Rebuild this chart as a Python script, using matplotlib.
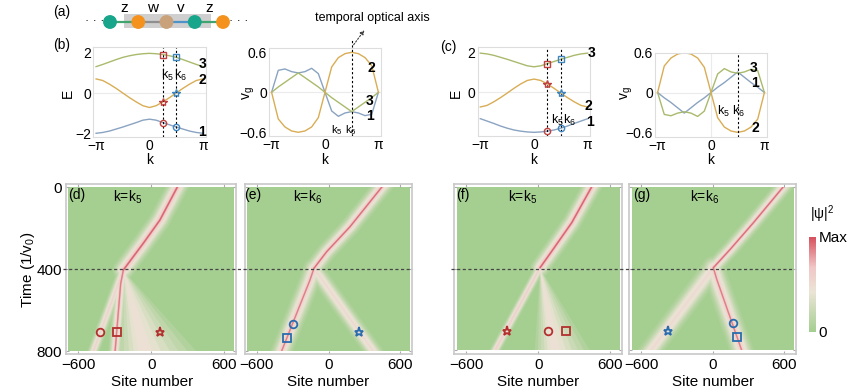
import numpy as np
import matplotlib
matplotlib.use('Agg')
import matplotlib.pyplot as plt
from matplotlib.colors import LinearSegmentedColormap, Normalize
from matplotlib.patches import Rectangle, Polygon, FancyArrowPatch
from matplotlib.cm import ScalarMappable
from matplotlib.lines import Line2D

plt.rcParams.update({
    'font.family': ['Liberation Sans', 'DejaVu Sans'],
    'mathtext.fontset': 'custom',
    'mathtext.rm': 'Liberation Sans',
    'mathtext.it': 'Liberation Sans:italic',
    'mathtext.default': 'regular',
})

# ---------------- data ----------------
# chain in (a)
node_colors = ['#17a58b', '#f5921e', '#c9a27c', '#17a58b', '#f5921e']
bond_colors = ['#3fa46f', '#8f8f8f', '#4d93c9', '#3fa46f']
bond_names = ['z', 'w', 'v', 'z']

# k grid (units of pi)
k_frac = [-1, -0.875, -0.75, -0.625, -0.5, -0.375, -0.25, -0.125, 0,
          0.125, 0.25, 0.375, 0.5, 0.625, 0.75, 0.875, 1]
i_k5, i_k6 = 10, 12

# (b) band energies
E1_b = [-2.00, -1.96, -1.89, -1.79, -1.69, -1.58, -1.47, -1.35, -1.30,
        -1.35, -1.47, -1.58, -1.69, -1.79, -1.89, -1.96, -2.00]
E2_b = [0.70, 0.62, 0.44, 0.23, 0.00, -0.23, -0.44, -0.63, -0.72,
        -0.63, -0.44, -0.23, 0.00, 0.23, 0.44, 0.62, 0.70]
E3_b = [1.31, 1.42, 1.54, 1.66, 1.77, 1.85, 1.91, 1.95, 1.97,
        1.95, 1.91, 1.85, 1.77, 1.66, 1.54, 1.42, 1.31]
# (b) group velocities
v1_b = [0.00, 0.33, 0.35, 0.31, 0.29, 0.31, 0.36, 0.28, 0.00,
        -0.28, -0.36, -0.31, -0.29, -0.31, -0.35, -0.33, 0.00]
v2_b = [0.00, -0.40, -0.52, -0.58, -0.60, -0.58, -0.52, -0.38, 0.00,
        0.38, 0.52, 0.58, 0.60, 0.58, 0.52, 0.40, 0.00]
v3_b = [0.00, 0.08, 0.15, 0.22, 0.29, 0.22, 0.15, 0.08, 0.00,
        -0.08, -0.15, -0.22, -0.29, -0.22, -0.15, -0.08, 0.00]
# (c) band energies
E1_c = [-1.33, -1.45, -1.57, -1.70, -1.81, -1.90, -1.96, -2.00, -2.02,
        -2.00, -1.96, -1.90, -1.81, -1.70, -1.57, -1.45, -1.33]
E2_c = [-0.74, -0.66, -0.48, -0.27, -0.04, 0.20, 0.42, 0.60, 0.67,
        0.60, 0.42, 0.20, -0.04, -0.27, -0.48, -0.66, -0.74]
E3_c = [1.98, 1.94, 1.87, 1.77, 1.67, 1.56, 1.45, 1.34, 1.29,
        1.34, 1.45, 1.56, 1.67, 1.77, 1.87, 1.94, 1.98]
# (c) group velocities
v1_c = [0.00, -0.08, -0.15, -0.23, -0.31, -0.23, -0.15, -0.08, 0.00,
        0.08, 0.15, 0.23, 0.31, 0.23, 0.15, 0.08, 0.00]
v2_c = [0.00, 0.40, 0.52, 0.58, 0.60, 0.58, 0.52, 0.38, 0.00,
        -0.38, -0.52, -0.58, -0.60, -0.58, -0.52, -0.40, 0.00]
v3_c = [0.00, -0.33, -0.35, -0.31, -0.29, -0.31, -0.36, -0.28, 0.00,
        0.28, 0.36, 0.31, 0.29, 0.31, 0.35, 0.33, 0.00]

# beam paths (site, time) in the |psi|^2 maps: (sites, times, peak, sigma_px)
d_beams = [([214, 72, -65, -188, -228], [0, 160, 274, 372, 404], 0.64, 5.0),
           ([214, 72, -65, -188, -228], [0, 160, 274, 372, 404], 0.95, 1.6),
           ([-228, -250, -296], [404, 470, 800], 0.60, 3.2),
           ([-228, -250, -296], [404, 470, 800], 0.88, 1.4),
           ([-228, -474], [404, 800], 0.55, 2.8)]
d_fans = [(-228, 404, -300, 370, 0.45)]
e_beams = [([443, 178, -17, -123], [0, 193, 315, 396], 0.60, 4.5),
           ([443, 178, -17, -123], [0, 193, 315, 396], 0.92, 1.3),
           ([-123, -156, -393], [396, 453, 800], 0.58, 5.0),
           ([-123, -156, -393], [396, 453, 800], 0.88, 1.3),
           ([-123, 372], [396, 800], 0.52, 4.2)]
e_fans = []
f_beams = [([445, 278, 112, 14], [0, 176, 315, 396], 0.64, 4.5),
           ([445, 278, 112, 14], [0, 176, 315, 396], 0.95, 1.5),
           ([14, -360], [396, 800], 0.58, 2.5)]
f_fans = [(14, 396, -30, 430, 0.45)]
g_beams = [([591, 340, 144, 4], [0, 176, 307, 396], 0.58, 4.0),
           ([591, 340, 144, 4], [0, 176, 307, 396], 0.92, 1.3),
           ([4, 33, 242], [396, 453, 800], 0.58, 5.5),
           ([4, 33, 242], [396, 453, 800], 0.88, 1.3),
           ([4, -520], [396, 800], 0.52, 5.2)]
g_fans = []

# markers (site, time, shape)
d_marks = [(-419, 706, 'o'), (-283, 706, 's'), (72, 706, '*')]
e_marks = [(-301, 668, 'o'), (-346, 738, 's'), (256, 706, '*')]
f_marks = [(-263, 703, '*'), (78, 703, 'o'), (228, 703, 's')]
g_marks = [(-373, 706, '*'), (167, 665, 'o'), (205, 735, 's')]

# ---------------- styling ----------------
c1, c2, c3 = '#8aa3c1', '#d9ad55', '#a9ba6c'
red, blue = '#c0413f', '#3f86bf'
mred, mblue = '#b3302e', '#2a6cad'
cmap = LinearSegmentedColormap.from_list(
    'psi', [(0, '#a5ce91'), (0.42, '#ebe4d6'), (0.68, '#f0c6c6'), (1, '#d64f5c')])

W, H = 865, 392
fig = plt.figure(figsize=(8.65, 3.92), dpi=100)


def px_axes(l, t, r, b):
    return fig.add_axes([l / W, 1 - b / H, (r - l) / W, (b - t) / H])


def ftext(x, y, s, **kw):
    kw.setdefault('ha', 'center')
    kw.setdefault('va', 'center')
    fig.text(x / W, 1 - y / H, s, **kw)


k = np.pi * np.array(k_frac)

# ---------------- (a) chain ----------------
axa = px_axes(85, 0, 250, 36)
axa.set_xlim(-0.885, 4.956)
axa.set_ylim(-1.4, 2.2)
axa.axis('off')
axa.add_patch(Rectangle((0.5, -0.6), 3.07, 1.4, facecolor='#cfcfcf', edgecolor='none', zorder=0))
for i, bc in enumerate(bond_colors):
    axa.plot([i, i + 1], [0, 0], color=bc, lw=1.6, zorder=1)
    axa.text(i + 0.5, 1.4, bond_names[i], ha='center', va='center', fontsize=11)
axa.scatter(range(len(node_colors)), [0] * len(node_colors), s=80, c=node_colors, zorder=2)
axa.text(-0.55, 0.05, '· · ·', ha='center', va='center', fontsize=9)
axa.text(4.55, 0.05, '· · ·', ha='center', va='center', fontsize=9)


# ---------------- band panels ----------------
def band_panel(box, curves, ylim, yticks, yticklabels, vlines, grid_v=False):
    ax = px_axes(*box)
    ax.axhline(0, color='#ebebeb', lw=0.8, zorder=0)
    if grid_v:
        ax.axvline(0, color='#ebebeb', lw=0.8, zorder=0)
    for vals, col in curves:
        ax.plot(k, vals, color=col, lw=1.0)
    ax.set_xlim(-3.3, 3.3)
    ax.set_ylim(ylim)
    ax.set_xticks([-np.pi, 0, np.pi])
    ax.set_xticklabels(['\u2212\u03c0', '0', '\u03c0'])
    ax.set_yticks(yticks)
    ax.set_yticklabels(yticklabels)
    for sp in ax.spines.values():
        sp.set_color('#dddddd')
        sp.set_linewidth(0.8)
    ax.tick_params(length=0, labelsize=10, pad=1.5)
    for v in vlines:
        ax.axvline(v, color='k', ls=(0, (2, 2)), lw=0.8)
    return ax


def band_marks(ax, bands, idx, col):
    for vals, mk in zip(bands, ['o', '*', 's']):
        ax.plot(k[idx], vals[idx], marker=mk, ms=4.5 if mk != '*' else 6,
                mfc='none', mec=col, mew=1.0, zorder=5)


axbE = band_panel((93.4, 46.7, 205.6, 137.3), [(E1_b, c1), (E2_b, c2), (E3_b, c3)],
                  (-2.2, 2.3), [-2, 0, 2], ['\u22122', '0', '2'], [k[i_k5], k[i_k6]])
band_marks(axbE, [E1_b, E2_b, E3_b], i_k5, red)
band_marks(axbE, [E1_b, E2_b, E3_b], i_k6, blue)

axbV = band_panel((268.9, 48.3, 381.1, 136.3), [(v1_b, c1), (v3_b, c3), (v2_b, c2)],
                  (-0.66, 0.66), [-0.6, 0, 0.6], ['\u22120.6', '0', '0.6'], [])
axbV.axvline(k[i_k6], ymax=1.09, color='k', ls=(0, (2, 2)), lw=0.8, clip_on=False)

axcE = band_panel((477.6, 46.8, 590.4, 135.9), [(E1_c, c1), (E2_c, c2), (E3_c, c3)],
                  (-2.2, 2.3), [0, 2], ['0', '2'], [k[i_k5], k[i_k6]])
band_marks(axcE, [E1_c, E2_c, E3_c], i_k5, red)
band_marks(axcE, [E1_c, E2_c, E3_c], i_k6, blue)

axcV = band_panel((654.9, 52.7, 767.1, 137.0), [(v1_c, c1), (v3_c, c3), (v2_c, c2)],
                  (-0.67, 0.6), [-0.6, 0, 0.6], ['\u22120.6', '0', '0.6'], [k[i_k6]], grid_v=True)

# labels of band panels
ftext(62, 12, '(a)', fontsize=10)
ftext(62, 45, '(b)', fontsize=10)
ftext(448, 47, '(c)', fontsize=10)
for x in [68, 456]:
    ftext(x, 93, 'E', fontsize=10, rotation=90)
for x in [249, 627]:
    ftext(x, 93, 'v$_g$', fontsize=10, rotation=90)
for x in [150, 325, 534, 711]:
    ftext(x, 160, 'k', fontsize=10)
for (x5, x6, y, fs) in [(167, 180, 75, 9), (337, 351, 130, 8), (557, 569, 120, 9),
                        (723, 738, 111, 9)]:
    ftext(x5, y, 'k$_5$', fontsize=fs)
    ftext(x6, y, 'k$_6$', fontsize=fs)
for x, y, s in [(202.7, 64, '3'), (202.7, 79.5, '2'), (202, 132, '1'),
                (371.7, 68.3, '2'), (370, 101, '3'), (370, 116, '1'),
                (591.7, 52.7, '3'), (588.3, 106, '2'), (590, 122.5, '1'),
                (753.3, 68.3, '3'), (755, 83.3, '1'), (755, 128.3, '2')]:
    ftext(x, y, s, fontsize=10, fontweight='bold')

ftext(372, 18, 'temporal optical axis', fontsize=9)
fig.add_artist(FancyArrowPatch(
    (352 / W, 1 - 47 / H), (366 / W, 1 - 28 / H), transform=fig.transFigure,
    arrowstyle='-|>', mutation_scale=6, linestyle=(0, (1.5, 1.5)), color='#444444', lw=0.8))


# ---------------- |psi|^2 maps ----------------
def extend_ends(sites, times):
    xs, ys = list(map(float, sites)), list(map(float, times))
    if ys[0] <= 0:
        xs[0] = xs[0] + (xs[0] - xs[1]) * 80.0 / (ys[1] - ys[0])
        ys[0] = -80.0
    if ys[-1] >= 800:
        xs[-1] = xs[-1] + (xs[-1] - xs[-2]) * 80.0 / (ys[-1] - ys[-2])
        ys[-1] = 880.0
    return xs, ys


def heat_panel(box, beams, fans, marks, mcol, show_y):
    ax = px_axes(*box)
    ax.set_xlim(-700, 700)
    ax.set_ylim(815, -15)
    bg = Rectangle((-680, 0), 1360, 800, facecolor=cmap(0.0), edgecolor='none', zorder=0)
    ax.add_patch(bg)
    layers = []
    n = 10
    for sites, times, peak, sig in beams:
        xs, ys = extend_ends(sites, times)
        for j in range(1, n + 1):
            lev = peak * j / n
            r = sig * np.sqrt(2 * np.log(peak / lev)) if j < n else 0.5
            layers.append((lev, 'line', (xs, ys), max(2 * r, 1.0)))
    for sa, ta, left, right, peak in fans:
        c = left + 0.35 * (right - left)
        nf = 6
        for j in range(nf):
            f = 1 - j / nf
            lev = peak * (j + 1) / nf
            verts = [(sa, ta), (c - (c - left) * f, 800), (c + (right - c) * f, 800)]
            layers.append((lev, 'poly', verts, None))
    layers.sort(key=lambda L: L[0])
    for lev, kind, geo, w in layers:
        if kind == 'line':
            art, = ax.plot(geo[0], geo[1], color=cmap(lev), lw=w * 0.72,
                           solid_capstyle='round', solid_joinstyle='round', zorder=1)
        else:
            art = ax.add_patch(Polygon(geo, closed=True, facecolor=cmap(lev),
                                       edgecolor='none', zorder=1))
        art.set_clip_path(bg)
    for s, t, mk in marks:
        ax.plot(s, t, marker=mk, ms=6.5 if mk == '*' else 5.5, mfc='none', mec=mcol,
                mew=1.3, zorder=5)
    ax.set_xticks([-600, 0, 600])
    ax.set_xticklabels(['\u2212600', '0', '600'])
    ax.set_yticks([0, 400, 800])
    if show_y:
        ax.set_yticklabels(['0', '400', '800'])
    else:
        ax.set_yticklabels([])
    for sp in ax.spines.values():
        sp.set_color('#c8c8c8')
        sp.set_linewidth(1.2)
    ax.tick_params(direction='in', length=2.5, color='#aaaaaa', labelsize=11, pad=3,
                   top=True, right=True)
    return ax


axd = heat_panel((65.9, 184.2, 236.4, 354.1), d_beams, d_fans, d_marks, mred, True)
axe = heat_panel((244.9, 184.2, 412.4, 354.1), e_beams, e_fans, e_marks, mblue, False)
axf = heat_panel((454.3, 183.6, 622.4, 353.5), f_beams, f_fans, f_marks, mred, False)
axg = heat_panel((629.3, 183.6, 796.4, 353.5), g_beams, g_fans, g_marks, mblue, False)

# dashed line at the temporal optical axis (t = 400)
inv = fig.transFigure.inverted()
for ax0, ax1, x0 in [(axd, axe, 63), (axf, axg, 451)]:
    y = inv.transform(ax0.transData.transform((0, 400)))[1]
    x1 = inv.transform(ax1.transData.transform((680, 400)))[0]
    fig.add_artist(Line2D([x0 / W, x1], [y, y], transform=fig.transFigure,
                          color='#444444', lw=0.9, ls=(0, (2.5, 2))))

ftext(28, 270, 'Time (1/v$_0$)', fontsize=11, rotation=90)
for x in [152, 328, 538, 713]:
    ftext(x, 382, 'Site number', fontsize=11)
for x, y, s in [(77, 195, '(d)'), (253, 195, '(e)'), (463, 195, '(f)'), (642, 195, '(g)')]:
    ftext(x, y, s, fontsize=10)
for x, y, s in [(128, 197, 'k=k$_5$'), (308, 197, 'k=k$_6$'),
                (523, 197, 'k=k$_5$'), (705, 197, 'k=k$_6$')]:
    ftext(x, y, s, fontsize=10)

# colorbar
cax = px_axes(809.3, 236.7, 815.5, 331.7)
cb = fig.colorbar(ScalarMappable(norm=Normalize(0, 1), cmap=cmap), cax=cax)
cb.outline.set_visible(False)
cb.set_ticks([0, 1])
cb.set_ticklabels(['0', 'Max'])
cax.tick_params(length=0, labelsize=11, pad=2)
ftext(822, 214, r'$|\psi|^2$', fontsize=10)

fig.savefig('out.png', dpi=100)
